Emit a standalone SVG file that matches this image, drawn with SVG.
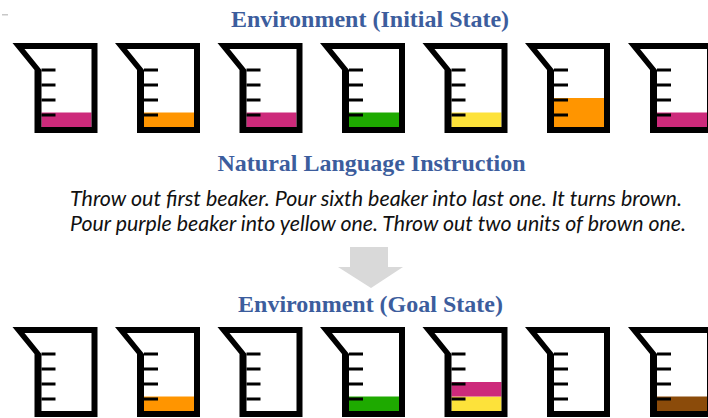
<svg xmlns="http://www.w3.org/2000/svg" width="708" height="418" viewBox="0 0 708 418">
  <style>
    .title { font-family: "Liberation Serif", "Times New Roman", serif; font-weight: bold; font-size: 24px; fill: #3c5d9d; text-anchor: middle; }
    .instr { font-family: Lato, "Open Sans", sans-serif; font-style: italic; font-size: 21.4px; fill: #111111; }
    .frame { fill: #000000; fill-rule: evenodd; }
    .tick { fill: #000000; }
    .pink { fill: #cd2a7b; }
    .orange { fill: #ff9500; }
    .green { fill: #1eaa00; }
    .yellow { fill: #fde23a; }
    .brown { fill: #8b4b0a; }
  </style>
  <defs>
    <!-- empty graduated beaker, origin at the spout tip -->
    <g id="beaker">
      <path class="frame" d="M0,0 H85 V90 H22 V27 Z M12,6 L29,27 V84 H79 V6 Z"/>
      <rect class="tick" x="29" y="25.5" width="14" height="3"/>
      <rect class="tick" x="29" y="40.5" width="14" height="3"/>
      <rect class="tick" x="29" y="55.5" width="14" height="3"/>
      <rect class="tick" x="29" y="70.5" width="14" height="3"/>
    </g>
    <!-- liquid levels, sitting on the inner floor -->
    <rect id="level1" x="29" y="69.5" width="50" height="14.5"/>
    <rect id="level2" x="29" y="55" width="50" height="29"/>
    <rect id="second" x="29" y="55" width="50" height="14.5"/>
  </defs>

  <rect x="0" y="0" width="708" height="418" fill="#ffffff"/>
  <rect x="2" y="14" width="6" height="1.5" fill="#c8c8c8"/>

  <text class="title" x="370" y="27">Environment (Initial State)</text>

  <!-- initial state -->
  <g id="initial">
    <g id="init-1" transform="translate(12.5,43)"><use href="#level1" class="pink"/><use href="#beaker"/></g>
    <g id="init-2" transform="translate(115,43)"><use href="#level1" class="orange"/><use href="#beaker"/></g>
    <g id="init-3" transform="translate(217.5,43)"><use href="#level1" class="pink"/><use href="#beaker"/></g>
    <g id="init-4" transform="translate(320,43)"><use href="#level1" class="green"/><use href="#beaker"/></g>
    <g id="init-5" transform="translate(422.5,43)"><use href="#level1" class="yellow"/><use href="#beaker"/></g>
    <g id="init-6" transform="translate(525,43)"><use href="#level2" class="orange"/><use href="#beaker"/></g>
    <g id="init-7" transform="translate(628,43)"><use href="#level1" class="pink"/><use href="#beaker"/></g>
  </g>

  <text class="title" x="371.5" y="171">Natural Language Instruction</text>
  <text class="instr" x="70" y="206" textLength="612" lengthAdjust="spacingAndGlyphs">Throw out first beaker. Pour sixth beaker into last one. It turns brown.</text>
  <text class="instr" x="70" y="231" textLength="616" lengthAdjust="spacingAndGlyphs">Pour purple beaker into yellow one. Throw out two units of brown one.</text>

  <!-- transition arrow -->
  <g id="connectors">
    <path d="M350,247 H388 V267 H403 L371,288 L338,267 H350 Z" fill="#d9d9d9"/>
  </g>

  <text class="title" x="370.5" y="312">Environment (Goal State)</text>

  <!-- goal state -->
  <g id="goal">
    <g id="goal-1" transform="translate(12.5,327)"><use href="#beaker"/></g>
    <g id="goal-2" transform="translate(115,327)"><use href="#level1" class="orange"/><use href="#beaker"/></g>
    <g id="goal-3" transform="translate(217.5,327)"><use href="#beaker"/></g>
    <g id="goal-4" transform="translate(320,327)"><use href="#level1" class="green"/><use href="#beaker"/></g>
    <g id="goal-5" transform="translate(422.5,327)"><use href="#level1" class="yellow"/><use href="#second" class="pink"/><use href="#beaker"/></g>
    <g id="goal-6" transform="translate(525,327)"><use href="#beaker"/></g>
    <g id="goal-7" transform="translate(628,327)"><use href="#level1" class="brown"/><use href="#beaker"/></g>
  </g>
</svg>
